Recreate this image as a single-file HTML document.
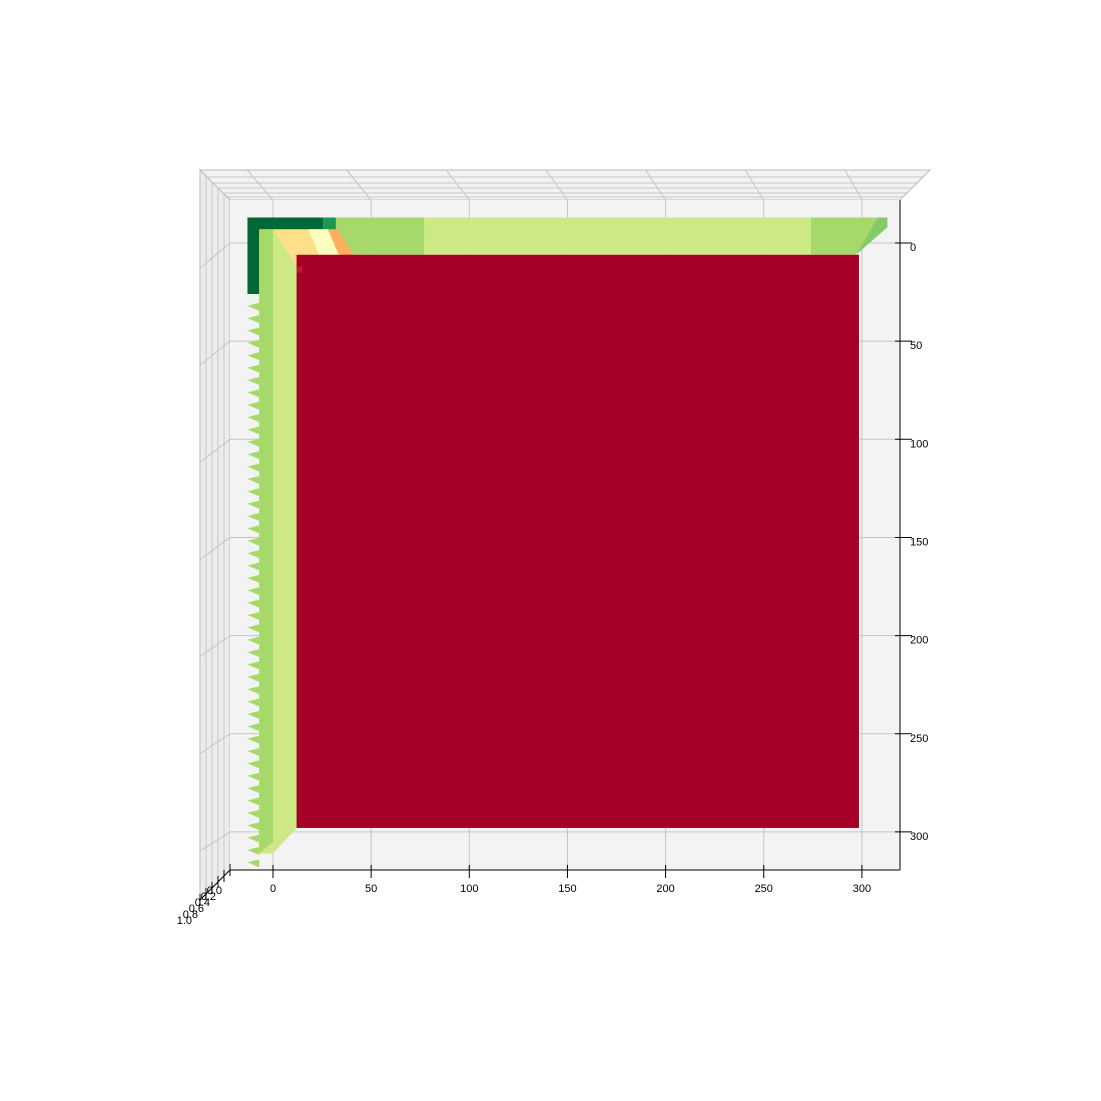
<!DOCTYPE html>
<html><head><meta charset="utf-8"><style>
html,body{margin:0;padding:0;background:#fff}
svg{display:block;font-family:"Liberation Sans",sans-serif}
</style></head><body>
<svg id="chart" width="1101" height="1101" viewBox="0 0 1101 1101">
<g id="panes">
  <polygon points="200,170 930,170 900,200 230,200" fill="#f2f2f2" stroke="#bbb" stroke-width="1"/>
  <polygon points="200,170 230,200 230,870 200,900" fill="#ececec" stroke="#bbb" stroke-width="1"/>
  <rect x="230" y="200" width="670" height="670" fill="#f3f3f3"/>
</g>
<g id="grid"></g>
<g id="surface"></g>
<g id="axes"></g>
</svg>
<script>
const xTicks=[0,50,100,150,200,250,300];
const yTicks=[0,50,100,150,200,250,300];
const zTicks=["0.0","0.2","0.4","0.6","0.8","1.0"];
const bandX=[25.5,32,77,274,308,313];
const bandColors=["#1a9850","#a6d96a","#cde985","#a6d96a","#84ca66"];
const leftColors=["#a6d96a","#cde985"];
const NS="http://www.w3.org/2000/svg";
const sx=v=>273+v*1.963, sy=v=>243+v*1.963;
function el(tag,attrs,parent,name){const e=document.createElementNS(NS,tag);for(const k in attrs)e.setAttribute(k,attrs[k]);


parent.appendChild(e);return e;}
const grid=document.getElementById('grid'),surf=document.getElementById('surface'),axes=document.getElementById('axes');
[177,183,188,193,197].forEach((y,i)=>{el('line',{x1:200+(y-170),y1:y,x2:930-(y-170),y2:y,stroke:'#c8c8c8'},grid,'back-wall-line');});
[206,212,218,224].forEach(x=>{el('line',{x1:x,y1:170+(x-200),x2:x,y2:900-(x-200),stroke:'#c8c8c8'},grid,'side-wall-line');});
xTicks.forEach(v=>{const x=sx(v);
el('line',{x1:x,y1:200,x2:x,y2:870,stroke:'#c4c4c4'},grid,'x-grid-line');
el('line',{x1:x,y1:200,x2:x-26+v*0.03,y2:170,stroke:'#c4c4c4'},grid,'x-wall-grid-line');
el('line',{x1:x,y1:865,x2:x,y2:878,stroke:'#000'},axes,'x-tick');
const t=el('text',{x:x,y:892,'font-size':11,'text-anchor':'middle'},axes,'x-tick-label');t.textContent=v;});
yTicks.forEach(v=>{const y=sy(v);
el('line',{x1:230,y1:y,x2:900,y2:y,stroke:'#c4c4c4'},grid,'y-grid-line');
el('line',{x1:230,y1:y,x2:200,y2:y+25-v*0.02,stroke:'#c4c4c4'},grid,'y-wall-grid-line');
el('line',{x1:895,y1:y,x2:912,y2:y,stroke:'#000'},axes,'y-tick');
const t=el('text',{x:910,y:y+8,'font-size':11},axes,'y-tick-label');t.textContent=v;});
// surface
el('polygon',{points:`${sx(-13)},${sy(-13)} ${sx(25.5)},${sy(-13)} ${sx(25.5)},${sy(-6)} ${sx(-7)},${sy(-6)} ${sx(-7)},${sy(26)} ${sx(-13)},${sy(26)}`,fill:'#006837'},surf,'surface-edge-dark');
for(let i=0;i<bandColors.length;i++){const a=bandX[i],b=bandX[i+1];
const bot=(v)=>Math.min(Math.max(v,41),297);
el('polygon',{points:`${sx(a)},${sy(-13)} ${sx(b)},${sy(-13)} ${sx(b>=313?313:b)},${sy(b>=313?-8:-13)} ${sx(bot(b))},${sy(6)} ${sx(bot(a))},${sy(6)} ${sx(a)},${sy(a<41?-6:-13)}`,fill:bandColors[i]},surf,'top-band');}
el('polygon',{points:`${sx(-7)},${sy(-7)} ${sx(0)},${sy(-7)} ${sx(12)},${sy(3)} ${sx(12)},${sy(298)} ${sx(0)},${sy(311)} ${sx(-7)},${sy(311)}`,fill:leftColors[1]},surf,'left-band');
el('polygon',{points:`${sx(-7)},${sy(-7)} ${sx(0)},${sy(-7)} ${sx(0)},${sy(305)} ${sx(-7)},${sy(311)}`,fill:leftColors[0]},surf,'left-band-outer');
el('polygon',{points:`${sx(0)},${sy(-7)} ${sx(28)},${sy(-7)} ${sx(41)},${sy(12)} ${sx(12)},${sy(12)}`,fill:'#fee08b'},surf,'corner-yellow');
el('polygon',{points:`${sx(18)},${sy(-7)} ${sx(28)},${sy(-7)} ${sx(36)},${sy(12)} ${sx(26)},${sy(12)}`,fill:'#ffffbf'},surf,'corner-light');
el('polygon',{points:`${sx(28)},${sy(-7)} ${sx(33)},${sy(-7)} ${sx(41)},${sy(6)} ${sx(41)},${sy(12)} ${sx(36)},${sy(12)}`,fill:'#fdae61'},surf,'corner-orange');
el('rect',{x:sx(36),y:sy(6),width:sx(41)-sx(36),height:sy(12)-sy(6),fill:'#f46d43'},surf,'corner-red');
for(let k=0;k<46;k++){const y=sy(32+k*6.3);
el('polygon',{points:`${sx(-13)},${y} ${sx(-7)},${y-3} ${sx(-7)},${y+5}`,fill:'#a6d96a'},surf,'left-sawtooth');}
el('rect',{x:sx(12),y:sy(6),width:sx(298.5)-sx(12),height:sy(298)-sy(6),fill:'#a50026'},surf,'surface-plateau');
el('rect',{x:sx(12),y:sy(12),width:6,height:6,fill:'#be1a2a'},surf,'corner-dark-red');
el('line',{x1:900,y1:200,x2:900,y2:870,stroke:'#000'},axes,'y-axis-line');
el('line',{x1:230,y1:870,x2:900,y2:870,stroke:'#000'},axes,'x-axis-line');
el('line',{x1:230,y1:870,x2:200,y2:900,stroke:'#000'},axes,'z-axis-line');
zTicks.forEach((t,i)=>{const x=230-i*6,y=870+i*6;
el('line',{x1:x,y1:y-6,x2:x,y2:y+6,stroke:'#000'},axes,'z-tick');
const tx=el('text',{x:x-8,y:y+24,'font-size':11,'text-anchor':'end'},axes,'z-tick-label');tx.textContent=t;});
</script>
</body></html>
